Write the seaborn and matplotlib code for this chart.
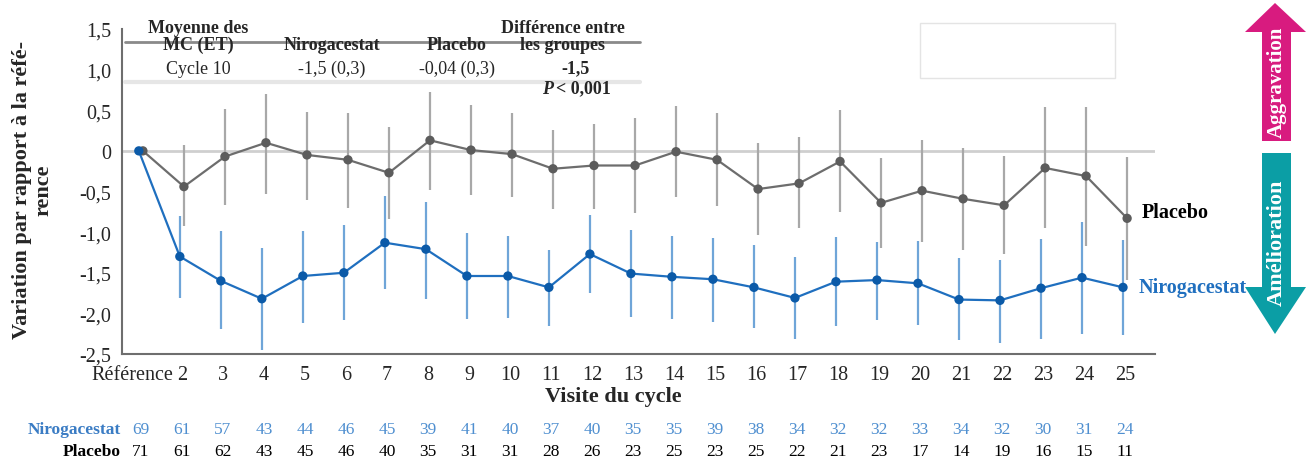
import numpy as np
import pandas as pd
import seaborn as sns
import matplotlib
matplotlib.use("Agg")
import matplotlib.pyplot as plt
from matplotlib.patches import Polygon, Rectangle
from matplotlib.lines import Line2D
from matplotlib.transforms import blended_transform_factory, ScaledTranslation

# data
cycles = ["Référence", "2", "3", "4", "5", "6", "7", "8", "9", "10", "11", "12", "13",
          "14", "15", "16", "17", "18", "19", "20", "21", "22", "23", "24", "25"]

placebo_mean = [0, -0.44, -0.07, 0.10, -0.05, -0.11, -0.27, 0.13, 0.01, -0.04, -0.22, -0.18, -0.18,
                -0.01, -0.11, -0.47, -0.40, -0.13, -0.64, -0.49, -0.59, -0.67, -0.21, -0.31, -0.83]
placebo_lo = [np.nan, -0.93, -0.67, -0.53, -0.60, -0.70, -0.84, -0.48, -0.54, -0.57, -0.72, -0.72, -0.77,
              -0.57, -0.68, -1.03, -0.95, -0.75, -1.19, -1.12, -1.22, -1.27, -0.95, -1.17, -1.59]
placebo_hi = [np.nan, 0.07, 0.52, 0.70, 0.48, 0.47, 0.29, 0.73, 0.56, 0.47, 0.26, 0.33, 0.41,
              0.55, 0.47, 0.10, 0.17, 0.50, -0.09, 0.13, 0.04, -0.06, 0.54, 0.54, -0.08]

nirog_mean = [0, -1.30, -1.60, -1.82, -1.54, -1.50, -1.13, -1.21, -1.54, -1.54, -1.68, -1.27, -1.51,
              -1.55, -1.58, -1.68, -1.81, -1.61, -1.59, -1.63, -1.83, -1.84, -1.69, -1.56, -1.68]
nirog_lo = [np.nan, -1.81, -2.19, -2.45, -2.12, -2.08, -1.70, -1.82, -2.07, -2.06, -2.15, -1.75, -2.05,
            -2.07, -2.11, -2.18, -2.31, -2.16, -2.08, -2.14, -2.33, -2.37, -2.31, -2.25, -2.27]
nirog_hi = [np.nan, -0.80, -0.99, -1.20, -0.98, -0.91, -0.56, -0.63, -1.01, -1.05, -1.22, -0.79, -0.97,
            -1.05, -1.07, -1.16, -1.31, -1.06, -1.12, -1.11, -1.32, -1.34, -1.08, -0.87, -1.10]

nirog_n = [69, 61, 57, 43, 44, 46, 45, 39, 41, 40, 37, 40, 35, 35, 39, 38, 34, 32, 32, 33, 34, 32, 30, 31, 24]
placebo_n = [71, 61, 62, 43, 45, 46, 40, 35, 31, 31, 28, 26, 23, 25, 23, 25, 22, 21, 23, 17, 14, 19, 16, 15, 11]

ytick_vals = [1.5, 1.0, 0.5, 0, -0.5, -1.0, -1.5, -2.0, -2.5]
ytick_labels = ["1,5", "1,0", "0,5", "0", "-0,5", "-1,0", "-1,5", "-2,0", "-2,5"]

sns.set_style("white")
plt.rcParams["font.family"] = ["Liberation Serif", "DejaVu Serif"]

BLUE = "#1f6fbf"
BLUE_DOT = "#0b5aa8"
BLUE_ERR = "#6fa5d8"
GREY = "#6d6d6d"
GREY_DOT = "#5c5c5c"
GREY_ERR = "#a8a8a8"

W, H = 1311, 464
fig = plt.figure(figsize=(W / 100, H / 100), dpi=100)
ax = fig.add_axes([122 / W, 1 - 355 / H, (1155 - 122) / W, (355 - 30) / H])


def fx(px):
    return px / W


def fy(py):
    return 1 - py / H


pos = np.arange(len(cycles))
offsets = {"Placebo": 0.05, "Nirogacestat": -0.05}

df = pd.concat([
    pd.DataFrame({"x": pos + offsets["Placebo"], "moy": placebo_mean,
                  "lo": placebo_lo, "hi": placebo_hi, "groupe": "Placebo"}),
    pd.DataFrame({"x": pos + offsets["Nirogacestat"], "moy": nirog_mean,
                  "lo": nirog_lo, "hi": nirog_hi, "groupe": "Nirogacestat"}),
])

ax.axhline(0, color="#cfcfcf", lw=2, zorder=0)

# confidence intervals
for g, c in [("Placebo", GREY_ERR), ("Nirogacestat", BLUE_ERR)]:
    d = df[df.groupe == g]
    ax.vlines(d.x, d.lo, d.hi, color=c, lw=1.6, zorder=1)

sns.lineplot(data=df, x="x", y="moy", hue="groupe",
             palette={"Placebo": GREY, "Nirogacestat": BLUE},
             lw=1.6, legend=False, ax=ax, zorder=2, sort=False)
for g, c in [("Placebo", GREY_DOT), ("Nirogacestat", BLUE_DOT)]:
    d = df[df.groupe == g]
    ax.scatter(d.x, d.moy, s=45, color=c, edgecolor="none", zorder=3)

ax.set_xlim(-0.46, 24.73)
ax.set_ylim(-2.5, 1.5)
ax.set_xticks(pos)
ax.set_xticklabels(cycles, fontsize=14.5)
ax.set_yticks(ytick_vals)
ax.set_yticklabels(ytick_labels, fontsize=14.5)
ax.set_xlabel("")
ax.set_ylabel("")
for s in ["top", "right"]:
    ax.spines[s].set_visible(False)
for s in ["left", "bottom"]:
    ax.spines[s].set_color("#6e6e6e")
    ax.spines[s].set_linewidth(1.5)
ax.tick_params(axis="both", direction="out", length=6, width=1.2, color="#8a8a8a", pad=2)

# nudge "Référence" left so it does not run into "2"
first = ax.get_xticklabels()[0]
first.set_transform(first.get_transform() + ScaledTranslation(-6 / 72, 0, fig.dpi_scale_trans))

# axis titles
fig.text(fx(33), fy(190), "Variation par rapport à la réfé-\nrence", rotation=90,
         ha="center", va="center", fontsize=16, fontweight="bold", linespacing=1.1)
fig.text(fx(613), fy(397), "Visite du cycle", ha="center", va="center",
         fontsize=16, fontweight="bold")

# end labels
ax.text(24.4, placebo_mean[-1] + 0.08, "Placebo", ha="left", va="center",
        fontsize=14.5, fontweight="bold", color="black")
ax.text(24.33, nirog_mean[-1] + 0.0, "Nirogacestat", ha="left", va="center",
        fontsize=14.5, fontweight="bold", color=BLUE)

# patient counts
tr = blended_transform_factory(ax.transData, fig.transFigure)
fig.text(fx(121), fy(430), "Nirogacestat", ha="right", va="center",
         fontsize=12.5, fontweight="bold", color="#3a7cc4")
fig.text(fx(121), fy(452), "Placebo", ha="right", va="center",
         fontsize=12.5, fontweight="bold", color="black")
for i in range(len(cycles)):
    ax.text(pos[i], fy(430), str(nirog_n[i]), transform=tr, ha="center", va="center",
            fontsize=12.5, color="#4f8fd0")
    ax.text(pos[i], fy(452), str(placebo_n[i]), transform=tr, ha="center", va="center",
            fontsize=12.5, color="black")

# summary table in the top left
fig.add_artist(Line2D([fx(125), fx(640)], [fy(43), fy(43)], color="#8a8a8a", lw=2, zorder=1))
fig.add_artist(Line2D([fx(125), fx(640)], [fy(83), fy(83)], color="#e6e6e6", lw=3, zorder=1))
hdr = dict(ha="center", va="center", fontsize=13, fontweight="bold", linespacing=1.05, zorder=3)
fig.text(fx(198), fy(37), "Moyenne des\nMC (ET)", **hdr)
fig.text(fx(332), fy(45), "Nirogacestat", **hdr)
fig.text(fx(457), fy(45), "Placebo", **hdr)
fig.text(fx(563), fy(37), "Différence entre\nles groupes", **hdr)
row = dict(ha="center", va="center", fontsize=13, zorder=3)
fig.text(fx(198), fy(69), "Cycle 10", **row)
fig.text(fx(332), fy(69), "-1,5 (0,3)", **row)
fig.text(fx(457), fy(69), "-0,04 (0,3)", **row)
fig.text(fx(575), fy(69), "-1,5", fontweight="bold", **row)
fig.text(fx(553), fy(89), "P", ha="right", va="center", fontsize=13,
         fontweight="bold", fontstyle="italic")
fig.text(fx(556), fy(89), "< 0,001", ha="left", va="center", fontsize=13, fontweight="bold")

# empty box at top right
fig.add_artist(Rectangle((fx(920), fy(79)), fx(1115) - fx(920), fy(24) - fy(79),
                         transform=fig.transFigure, facecolor="white",
                         edgecolor="#e4e4e4", lw=1))

# arrows on the right
up = [(1262, 142), (1262, 33), (1245, 33), (1275, 4), (1306, 33), (1291, 33), (1291, 142)]
down = [(1262, 154), (1262, 288), (1245, 288), (1275, 335), (1306, 288), (1291, 288), (1291, 154)]
fig.add_artist(Polygon([(fx(a), fy(b)) for a, b in up], closed=True,
                       transform=fig.transFigure, facecolor="#d81b7f", edgecolor="none"))
fig.add_artist(Polygon([(fx(a), fy(b)) for a, b in down], closed=True,
                       transform=fig.transFigure, facecolor="#0b9ea5", edgecolor="none"))
fig.text(fx(1277), fy(82), "Aggravation", rotation=90, ha="center", va="center",
         fontsize=15, fontweight="bold", color="white")
fig.text(fx(1277), fy(243), "Amélioration", rotation=90, ha="center", va="center",
         fontsize=16, fontweight="bold", color="white")

fig.savefig("out.png", dpi=100)
